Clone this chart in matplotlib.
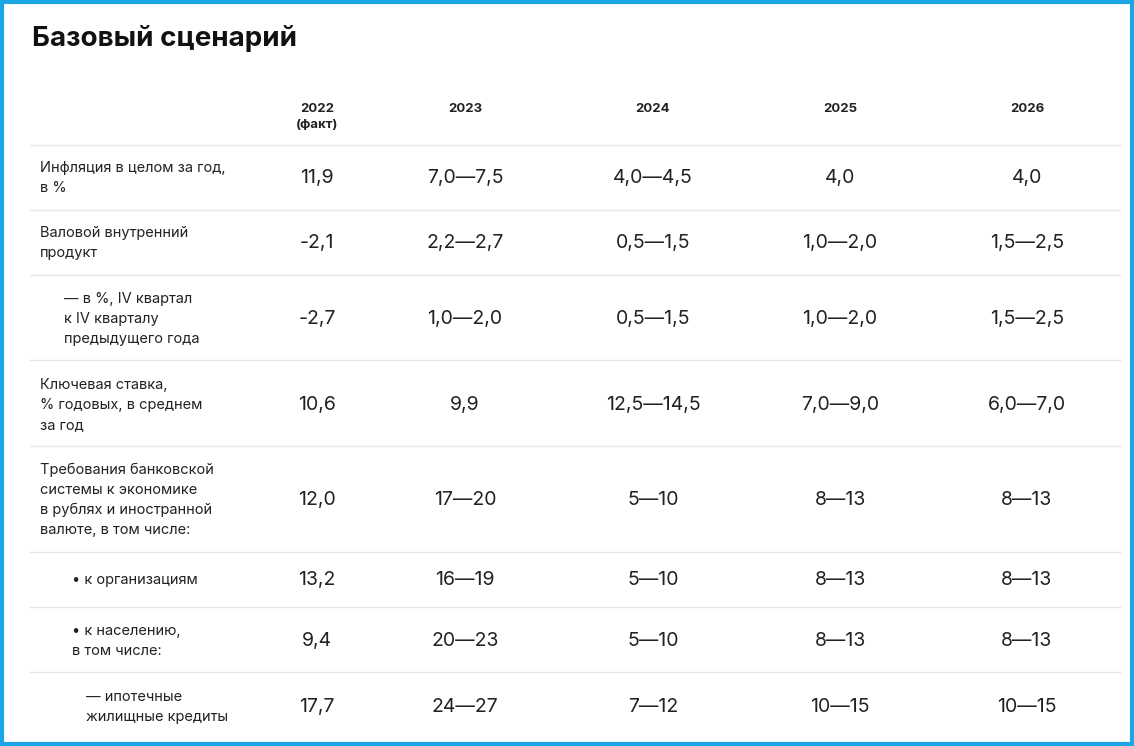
import matplotlib.pyplot as plt

plt.rcParams['font.family'] = ['Inter', 'DejaVu Sans']

title = 'Базовый сценарий'
years = ['2022\n(факт)', '2023', '2024', '2025', '2026']
row_labels = [
    'Инфляция в целом за год,\nв %',
    'Валовой внутренний\nпродукт',
    '— в %, IV квартал\nк IV кварталу\nпредыдущего года',
    'Ключевая ставка,\n% годовых, в среднем\nза год',
    'Требования банковской\nсистемы к экономике\nв рублях и иностранной\nвалюте, в том числе:',
    '• к организациям',
    '• к населению,\nв том числе:',
    '— ипотечные\nжилищные кредиты',
]
values = [
    ['11,9', '7,0—7,5', '4,0—4,5', '4,0', '4,0'],
    ['-2,1', '2,2—2,7', '0,5—1,5', '1,0—2,0', '1,5—2,5'],
    ['-2,7', '1,0—2,0', '0,5—1,5', '1,0—2,0', '1,5—2,5'],
    ['10,6', '9,9', '12,5—14,5', '7,0—9,0', '6,0—7,0'],
    ['12,0', '17—20', '5—10', '8—13', '8—13'],
    ['13,2', '16—19', '5—10', '8—13', '8—13'],
    ['9,4', '20—23', '5—10', '8—13', '8—13'],
    ['17,7', '24—27', '7—12', '10—15', '10—15'],
]

# layout in pixels
col_x = [317, 465, 653, 840, 1027]
row_y = [178, 243, 319, 405, 500, 580, 641, 707]
label_x = [40, 40, 64, 40, 40, 72, 72, 86]
lines_y = [145, 210, 275, 360, 446, 552, 607, 672]

fig = plt.figure(figsize=(11.34, 7.46), dpi=100)
ax = fig.add_axes([0, 0, 1, 1])
ax.set_xlim(0, 1134)
ax.set_ylim(746, 0)
ax.axis('off')

# frame
ax.add_patch(plt.Rectangle((2, 2), 1130, 742, fill=False, ec='#1ea5e6', lw=3))

ax.text(32, 38, title, fontsize=20, fontweight='bold', va='center', color='#111111')

for x, yr in zip(col_x, years):
    ax.text(x, 103, yr, fontsize=9.5, fontweight='bold', ha='center', va='top',
            linespacing=1.5, color='#222222')
    
for y in lines_y:
    ax.plot([30, 1120], [y, y], color='#e6e6e6', lw=1)

for i, lab in enumerate(row_labels):
    ax.text(label_x[i], row_y[i], lab, fontsize=10.5, va='center', ha='left',
            linespacing=1.55, color='#222222')
    for x, v in zip(col_x, values[i]):
        ax.text(x, row_y[i], v, fontsize=14, va='center', ha='center', color='#222222')

plt.savefig('out.png', dpi=100)
